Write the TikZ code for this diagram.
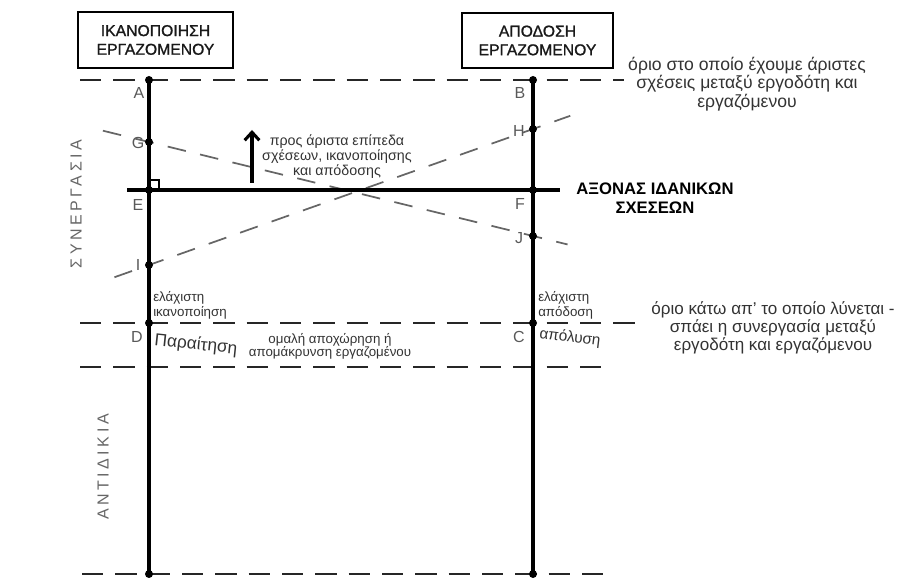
\documentclass[tikz,border=0pt]{standalone}
\usepackage{fontspec}
\setmainfont{Liberation Sans}
\usetikzlibrary{calc,arrows.meta}

\tikzset{
  dashline/.style={line width=1.9pt, dash pattern=on 16pt off 9pt, black!85},
  slantline/.style={line width=1.3pt, dash pattern=on 14pt off 11pt, black!60},
  axisline/.style={line width=3pt},
  titlebox/.style={draw, line width=1.6pt, align=center, inner sep=0pt, text=black!90,
    font=\fontsize{11.8}{14}\selectfont\addfontfeature{FakeBold=1.2}},
  lbl/.style={text=black!65, inner sep=0.75pt, font=\fontsize{12}{12}\selectfont},
  note/.style={text=black!80, align=center, inner sep=0.75pt},
  sidetext/.style={text=black!60, inner sep=0pt, rotate=90,
    font=\fontsize{12}{12}\selectfont\addfontfeature{LetterSpace=22}}
}

\begin{document}
\begin{tikzpicture}[x=0.75pt,y=0.75pt,yscale=-1,xscale=1]
\useasboundingbox (0,0) rectangle (914,580);

%Points on the two axes
\coordinate (A) at (149,80);
\coordinate (B) at (533,80);
\coordinate (G) at (149,142);
\coordinate (H) at (533,129);
\coordinate (E) at (149,190);
\coordinate (F) at (533,190);
\coordinate (I) at (149,265);
\coordinate (J) at (533,236);
\coordinate (D) at (149,323);
\coordinate (C) at (533,323);
\coordinate (Aend) at (149,574);
\coordinate (Bend) at (533,574);

%Dashed limits
\coordinate (topL) at (80,80);
\coordinate (topR) at (624,80);
\coordinate (minL) at (80,323);
\coordinate (minR) at (642,323);
\coordinate (sepL) at (80,367);
\coordinate (sepR) at (612,367);
\coordinate (botL) at (82,574);
\coordinate (botR) at (612,574);
\draw[dashline] (topL) -- (topR);
\draw[dashline] (minL) -- (minR);
\draw[dashline] (sepL) -- (sepR);
\draw[dashline] (botL) -- (botR);

%Slanted dashed lines
\draw[slantline] ($(G)!-0.12!(J)$) -- ($(G)!1.09!(J)$);
\draw[slantline] ($(I)!-0.09!(H)$) -- ($(I)!1.097!(H)$);

%Axis of ideal relations
\coordinate (axL) at (127,190);
\coordinate (axR) at (560,190);
\draw[axisline] (axL) -- (axR);
\draw[axisline] (A) -- (Aend);
\draw[axisline] (B) -- (Bend);
\draw[line width=0.8pt] ($(E)+(0,-10)$) -| ($(E)+(10,0)$);

%Dots
\foreach \p in {A,B,G,H,E,F,I,J,D,C,Aend,Bend}
  \fill (\p) circle (4);

%Arrow
\coordinate (upS) at (252,183);
\coordinate (upE) at (252,130);
\draw[line width=2.3pt, -{Straight Barb[length=6pt,width=11pt]}] (upS) -- (upE);

% Text Node
\node[titlebox, minimum width=116pt, minimum height=42pt] (boxL) at (155.5,40) {ΙΚΑΝΟΠΟΙΗΣΗ\\ΕΡΓΑΖΟΜΕΝΟΥ};
% Text Node
\node[titlebox, minimum width=113pt, minimum height=41pt] (boxR) at (537.5,40.5) {ΑΠΟΔΟΣΗ\\ΕΡΓΑΖΟΜΕΝΟΥ};
% Text Node
\node[note, font=\fontsize{13.2}{12.6}\selectfont] (best) at (747,84) {όριο στο οποίο έχουμε άριστες\\σχέσεις μεταξύ εργοδότη και\\εργαζόμενου};
% Text Node
\node[note, font=\fontsize{12.8}{12.2}\selectfont] (worst) at (773,328) {όριο κάτω απ' το οποίο λύνεται -\\σπάει η συνεργασία μεταξύ\\εργοδότη και εργαζόμενου};
% Text Node
\node[note, font=\fontsize{10.7}{11.2}\selectfont] (upnote) at (337,157) {προς άριστα επίπεδα\\σχέσεων, ικανοποίησης\\και απόδοσης};
% Text Node
\node[note, text=black, font=\bfseries\fontsize{12.5}{14.5}\selectfont] (axis) at (655,198) {ΑΞΟΝΑΣ ΙΔΑΝΙΚΩΝ\\ΣΧΕΣΕΩΝ};
% Text Node
\node[note, align=left, anchor=west, font=\fontsize{10}{11.2}\selectfont] (minsat) at (152,305) {ελάχιστη\\ικανοποίηση};
% Text Node
\node[note, align=left, anchor=west, font=\fontsize{10}{11.2}\selectfont] (minperf) at (537,305) {ελάχιστη\\απόδοση};
% Text Node
\node[note, font=\fontsize{10}{9.8}\selectfont] (leave) at (330,346) {ομαλή αποχώρηση ή\\απομάκρυνση εργαζομένου};
% Text Node
\node[note, rotate=-6, font=\fontsize{13}{13}\selectfont] (resign) at (196,345) {Παραίτηση};
% Text Node
\node[note, rotate=-7, font=\fontsize{11.5}{11.5}\selectfont] (fire) at (570,338) {απόλυση};

% Point labels
\node[lbl] (lA) at (139,93) {A};
\node[lbl] (lB) at (520,93) {B};
\node[lbl] (lG) at (138,143) {G};
\node[lbl] (lE) at (138,205) {E};
\node[lbl] (lI) at (138,265) {I};
\node[lbl] (lH) at (519,131) {H};
\node[lbl] (lF) at (520,204) {F};
\node[lbl] (lJ) at (519,238) {J};
\node[lbl] (lD) at (137,337) {D};
\node[lbl] (lC) at (519,337) {C};

% Side labels
\node[sidetext] (coop) at (76,204) {ΣΥΝΕΡΓΑΣΙΑ};
\node[sidetext] (conf) at (103,467) {ΑΝΤΙΔΙΚΙΑ};
\end{tikzpicture}
\end{document}
